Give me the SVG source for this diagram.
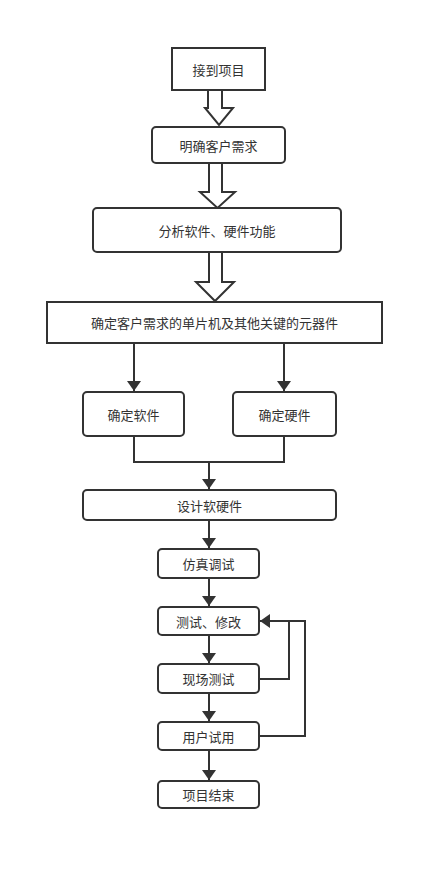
<svg xmlns="http://www.w3.org/2000/svg" width="444" height="870" viewBox="0 0 444 870">
<defs>
<marker id="ah" viewBox="0 0 10 14" refX="10" refY="7" markerWidth="10" markerHeight="14" markerUnits="userSpaceOnUse" orient="auto">
<path d="M0,0 L10,7 L0,14 Z" fill="#333"/>
</marker>
</defs>
<style>
.box{fill:#fff;stroke:#333;stroke-width:2}
.t{font-family:"Noto Sans CJK SC","Noto Sans",sans-serif;font-size:13px;fill:#333;text-anchor:middle;dominant-baseline:central}
.ln{fill:none;stroke:#333;stroke-width:2}
.hol{fill:#fff;stroke:#333;stroke-width:2;stroke-linejoin:miter}
</style>
<rect width="444" height="870" fill="#fff"/>
<g id="connectors">
<path class="hol" d="M208,90 V108 H205 L219,125 L233,108 H222 V90"/>
<path class="hol" d="M209,163 V192 H200 L217.5,208 L235,192 H222 V163"/>
<path class="hol" d="M209,252 V282 H196 L215,301 L234,282 H222 V252"/>
<path class="ln" d="M134,343 V391" marker-end="url(#ah)"/>
<path class="ln" d="M284,343 V391" marker-end="url(#ah)"/>
<path class="ln" d="M134,436 V462 H284 V436"/>
<path class="ln" d="M209,462 V489" marker-end="url(#ah)"/>
<path class="ln" d="M209,520 V548" marker-end="url(#ah)"/>
<path class="ln" d="M209,578 V606" marker-end="url(#ah)"/>
<path class="ln" d="M209,635 V663" marker-end="url(#ah)"/>
<path class="ln" d="M209,693 V721" marker-end="url(#ah)"/>
<path class="ln" d="M209,750 V780" marker-end="url(#ah)"/>
<path class="ln" d="M259,679 H289 V621"/>
<path class="ln" d="M259,736 H305 V621 H260" marker-end="url(#ah)"/>
</g>
<g id="n1"><rect class="box" x="172" y="48" width="93" height="42"/><text class="t" x="218.5" y="69">接到项目</text></g>
<g id="n2"><rect class="box" x="152" y="127" width="133" height="36" rx="4"/><text class="t" x="218.5" y="145">明确客户需求</text></g>
<g id="n3"><rect class="box" x="93" y="208" width="248" height="44" rx="4"/><text class="t" x="217" y="230">分析软件、硬件功能</text></g>
<g id="n4"><rect class="box" x="47" y="302" width="335" height="41"/><text class="t" x="214.5" y="322.5">确定客户需求的单片机及其他关键的元器件</text></g>
<g id="n5"><rect class="box" x="83" y="392" width="101" height="44" rx="4"/><text class="t" x="133.5" y="414">确定软件</text></g>
<g id="n6"><rect class="box" x="233" y="392" width="103" height="44" rx="4"/><text class="t" x="284.5" y="414">确定硬件</text></g>
<g id="n7"><rect class="box" x="83" y="490" width="253" height="30" rx="4"/><text class="t" x="209.5" y="505">设计软硬件</text></g>
<g id="n8"><rect class="box" x="158" y="549" width="101" height="29" rx="4"/><text class="t" x="208.5" y="563.5">仿真调试</text></g>
<g id="n9"><rect class="box" x="158" y="607" width="101" height="28" rx="4"/><text class="t" x="208.5" y="621">测试、修改</text></g>
<g id="n10"><rect class="box" x="158" y="664" width="101" height="29" rx="4"/><text class="t" x="208.5" y="678.5">现场测试</text></g>
<g id="n11"><rect class="box" x="158" y="722" width="101" height="28" rx="4"/><text class="t" x="208.5" y="736">用户试用</text></g>
<g id="n12"><rect class="box" x="158" y="781" width="101" height="27" rx="4"/><text class="t" x="208.5" y="794.5">项目结束</text></g>
</svg>
